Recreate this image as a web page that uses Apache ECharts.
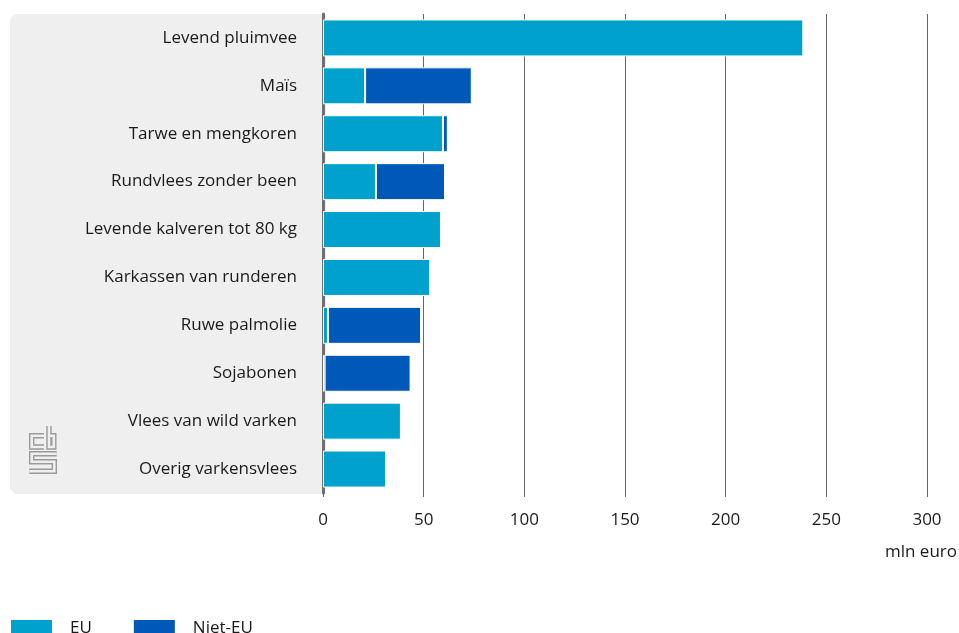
<!DOCTYPE html>
<html>
<head>
<meta charset="utf-8">
<script src="https://cdn.jsdelivr.net/npm/echarts@6/dist/echarts.min.js"></script>
<style>
  html, body { margin: 0; padding: 0; background: #fff; }
  #chart { width: 959px; height: 633px; }
</style>
</head>
<body>
<div id="chart"></div>
<script>
// Import values in mln euro, split into EU and non-EU origin
const categories = [
  'Levend pluimvee',
  'Maïs',
  'Tarwe en mengkoren',
  'Rundvlees zonder been',
  'Levende kalveren tot 80 kg',
  'Karkassen van runderen',
  'Ruwe palmolie',
  'Sojabonen',
  'Vlees van wild varken',
  'Overig varkensvlees'
];
const euValues    = [238.6, 20.9, 59.6, 26.3, 58.6, 53.2, 2.5, 0.8, 38.7, 31.3];
const nietEuValues = [0, 53.0, 2.4, 34.3, 0, 0, 46.2, 42.7, 0, 0];
const xTicks = [0, 50, 100, 150, 200, 250, 300];

const FONT = '"Open Sans", "Noto Sans", sans-serif';
const TEXT = '#1a1a1a';
const PANEL = '#efefef';

// cbs logo, drawn as outlined strokes
function logoPart(points) {
  return [
    { type: 'polyline', shape: { points }, style: { stroke: '#9a9a9a', lineWidth: 5.4, fill: null, lineJoin: 'miter', lineCap: 'butt' }, z: 1 },
    { type: 'polyline', shape: { points }, style: { stroke: PANEL, lineWidth: 2.6, fill: null, lineJoin: 'miter', lineCap: 'butt' }, z: 2 }
  ];
}
const logo = [].concat(
  logoPart([[44, 435.7], [31.7, 435.7], [31.7, 447], [44, 447]]),
  logoPart([[49, 426], [49, 447], [53.8, 447], [53.8, 435.7], [49, 435.7]]),
  logoPart([[56.7, 453.7], [31.7, 453.7], [31.7, 461.7], [54.3, 461.7], [54.3, 471.3], [29.3, 471.3]])
);

const chart = echarts.init(document.getElementById('chart'));
chart.setOption({
  animation: false,
  textStyle: { fontFamily: FONT },
  grid: { left: 323, right: 32, top: 14, bottom: 140, containLabel: false },
  legend: {
    left: 9, top: 618, padding: 0,
    itemWidth: 43, itemHeight: 18, itemGap: 40,
    icon: 'rect',
    textStyle: { fontFamily: FONT, fontSize: 17, color: TEXT, padding: [0, 0, 0, 12] },
    data: ['EU', 'Niet-EU']
  },
  xAxis: {
    type: 'value',
    min: 0, max: 300, interval: 50,
    axisLine: { show: false },
    axisTick: { show: true, length: 4, lineStyle: { color: '#666' } },
    splitLine: { show: true, lineStyle: { color: '#666', width: 1 } },
    axisLabel: {
      fontFamily: FONT, fontSize: 17, color: TEXT, margin: 19,
      formatter: v => (xTicks.indexOf(v) >= 0 ? String(v) : '')
    }
  },
  yAxis: {
    type: 'category',
    data: categories,
    inverse: true,
    axisLine: { show: true, lineStyle: { color: '#6f6f6f', width: 3 } },
    axisTick: { show: false },
    axisLabel: { fontFamily: FONT, fontSize: 17, color: TEXT, margin: 26 }
  },
  graphic: [
    {
      type: 'rect', z: -10, silent: true,
      shape: { x: 10, y: 14, width: 316, height: 480, r: [8, 0, 0, 8] },
      style: { fill: PANEL }
    },
    { type: 'group', z: -5, silent: true, children: logo },
    {
      type: 'text', right: 2, top: 544,
      style: { text: 'mln euro', fontFamily: FONT, fontSize: 17, fill: TEXT, textAlign: 'right' }
    }
  ],
  series: [
    {
      name: 'EU', type: 'bar', stack: 'total', barWidth: 37,
      data: euValues,
      itemStyle: { color: '#00a1cd', borderColor: '#ffffff', borderWidth: 1 }
    },
    {
      name: 'Niet-EU', type: 'bar', stack: 'total', barWidth: 37,
      data: nietEuValues,
      itemStyle: { color: '#0058b8', borderColor: '#ffffff', borderWidth: 1 }
    }
  ]
});
</script>
</body>
</html>
